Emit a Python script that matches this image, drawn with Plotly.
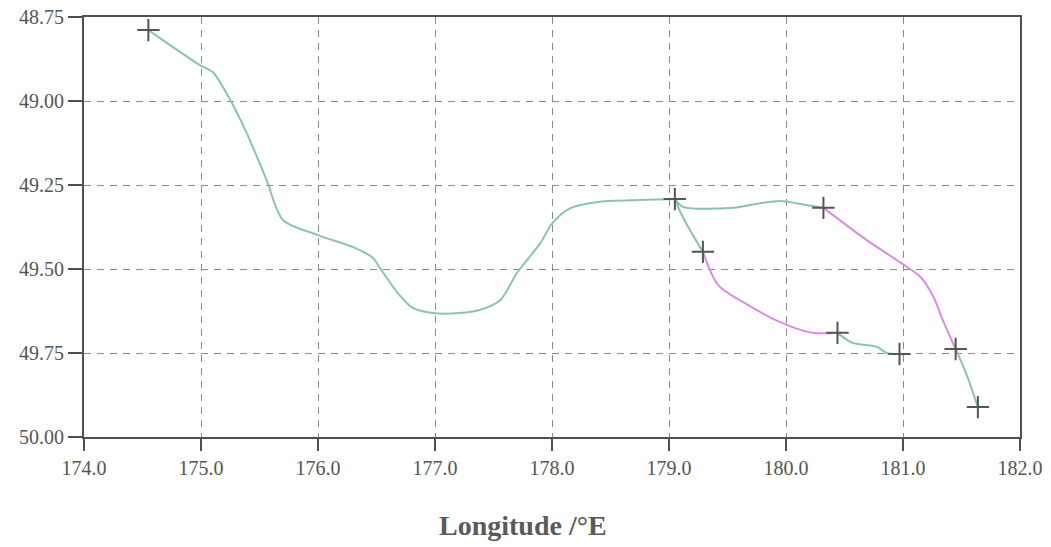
import plotly.graph_objects as go

# Track segments (longitude °E, latitude on reversed axis)
west_lon = [174.55, 174.99, 175.10, 175.25, 175.39, 175.56, 175.70, 176.00, 176.30, 176.47,
            176.53, 176.68, 176.81, 176.98, 177.21, 177.38, 177.56, 177.70, 177.90, 178.00,
            178.15, 178.41, 178.75, 179.05]
west_lat = [48.789, 48.893, 48.914, 48.997, 49.095, 49.235, 49.354, 49.399, 49.435, 49.467,
            49.497, 49.571, 49.616, 49.631, 49.631, 49.622, 49.592, 49.512, 49.423, 49.365,
            49.320, 49.300, 49.295, 49.292]

north_lon = [179.05, 179.12, 179.55, 179.78, 179.97, 180.18, 180.32]
north_lat = [49.292, 49.315, 49.318, 49.304, 49.298, 49.310, 49.318]

east_mag_lon = [180.32, 180.69, 180.97, 181.15, 181.26, 181.34, 181.45]
east_mag_lat = [49.318, 49.414, 49.479, 49.524, 49.583, 49.652, 49.738]

east_tail_lon = [181.45, 181.55, 181.64]
east_tail_lat = [49.738, 49.820, 49.911]

south_lon = [179.05, 179.09, 179.18, 179.29]
south_lat = [49.292, 49.325, 49.385, 49.449]

south_mag_lon = [179.29, 179.42, 179.63, 179.97, 180.23, 180.44]
south_mag_lat = [49.449, 49.548, 49.598, 49.661, 49.690, 49.690]

south_tail_lon = [180.44, 180.57, 180.78, 180.86, 180.97]
south_tail_lat = [49.690, 49.720, 49.732, 49.750, 49.753]

# Station positions
stn_lon = [174.55, 179.05, 179.29, 180.32, 180.44, 180.97, 181.45, 181.64]
stn_lat = [48.789, 49.292, 49.449, 49.318, 49.690, 49.753, 49.738, 49.911]

x_ticks = [174.0, 175.0, 176.0, 177.0, 178.0, 179.0, 180.0, 181.0, 182.0]
y_ticks = [48.75, 49.00, 49.25, 49.50, 49.75, 50.00]

GREEN = "rgb(140,196,170)"
MAGENTA = "rgb(218,140,228)"

fig = go.Figure()

segments = [
    (west_lon, west_lat, GREEN),
    (north_lon, north_lat, GREEN),
    (east_mag_lon, east_mag_lat, MAGENTA),
    (east_tail_lon, east_tail_lat, GREEN),
    (south_lon, south_lat, GREEN),
    (south_mag_lon, south_mag_lat, MAGENTA),
    (south_tail_lon, south_tail_lat, GREEN),
]
for lon, lat, col in segments:
    fig.add_trace(go.Scatter(
        x=lon, y=lat, mode="lines",
        line=dict(color=col, width=2, shape="spline", smoothing=0.8),
        showlegend=False, hoverinfo="skip",
    ))

fig.add_trace(go.Scatter(
    x=stn_lon, y=stn_lat, mode="markers",
    marker=dict(symbol="cross-thin", size=16, line=dict(color="#555555", width=2)),
    showlegend=False,
))

serif = "Liberation Serif, Times New Roman, serif"
axis_common = dict(
    showline=True, linecolor="#505050", linewidth=2, mirror=True,
    ticks="outside", tickwidth=2, tickcolor="#505050",
    showgrid=True, gridcolor="#8a8a8a", gridwidth=1, griddash="7px,6px",
    zeroline=False, automargin=False,
    tickfont=dict(family=serif, size=20, color="#555555"),
)

fig.update_xaxes(
    range=[174.0, 182.0], tickvals=x_ticks, ticklen=12,
    ticktext=[f"{v:.1f}" for v in x_ticks], **axis_common,
)
fig.update_yaxes(
    range=[50.0, 48.75], tickvals=y_ticks, ticklen=14,
    ticktext=[f"{v:.2f}" for v in y_ticks], **axis_common,
)

fig.add_annotation(
    text="<b>Longitude /°E</b>", xref="paper", yref="paper",
    x=0.469, y=-0.21, xanchor="center", yanchor="middle", showarrow=False,
    font=dict(family=serif, size=28, color="#5a5a5a"),
)

fig.update_layout(
    width=1051, height=547,
    margin=dict(l=84, r=31, t=17, b=110),
    paper_bgcolor="white", plot_bgcolor="white",
)

fig.write_html("out.html")
